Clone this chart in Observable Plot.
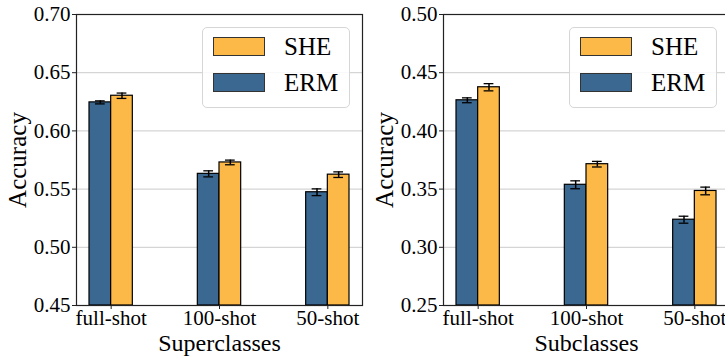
<!DOCTYPE html>
<html>
<head>
<meta charset="utf-8">
<script src="https://cdn.jsdelivr.net/npm/d3@7"></script>
<script src="https://cdn.jsdelivr.net/npm/@observablehq/plot@0.6"></script>
<style>
  html, body { margin: 0; padding: 0; background: white; width: 725px; height: 356px; overflow: hidden; }
  #wrap { position: relative; width: 725px; height: 356px; font-family: "Liberation Serif", "Times New Roman", serif; }
  .panel { position: absolute; top: 0; }
  .legend { position: absolute; top: 27px; width: 146px; height: 79px; border: 1px solid #d6d6d6; border-radius: 5px; background: rgba(255,255,255,0.85); }
  .legend .sw { position: absolute; left: 10px; width: 50px; height: 17px; border: 1px solid #333; }
  .legend .lb { position: absolute; left: 81px; font-size: 25px; line-height: 25px; color: black; }
</style>
</head>
<body>
<div id="wrap"></div>
<script>
const categories = ["full-shot", "100-shot", "50-shot"];
const series = ["ERM", "SHE"];
const colors = ["#3b6891", "#fdb948"];

const superERM    = [0.6245, 0.5631, 0.5473];
const superERMerr = [0.0013, 0.0026, 0.0029];
const superSHE    = [0.6302, 0.5729, 0.5624];
const superSHEerr = [0.0023, 0.0020, 0.0024];

const subERM      = [0.4263, 0.3537, 0.3237];
const subERMerr   = [0.0021, 0.0034, 0.0030];
const subSHE      = [0.4375, 0.3714, 0.3484];
const subSHEerr   = [0.0031, 0.0024, 0.0033];

const superTicks = [0.45, 0.50, 0.55, 0.60, 0.65, 0.70];
const subTicks   = [0.25, 0.30, 0.35, 0.40, 0.45, 0.50];

const barW = 0.2;
const capW = 0.045;

function rows(erm, ermErr, she, sheErr) {
  const out = [];
  categories.forEach((c, i) => {
    out.push({cat: c, i, series: "ERM", value: erm[i], err: ermErr[i], x1: i - barW, x2: i});
    out.push({cat: c, i, series: "SHE", value: she[i], err: sheErr[i], x1: i, x2: i + barW});
  });
  return out;
}

function panel(data, ticks, xlabel) {
  const y0 = ticks[0], y1 = ticks[ticks.length - 1];
  return Plot.plot({
    width: 365, height: 356,
    marginLeft: 76, marginRight: 3, marginTop: 14, marginBottom: 51,
    style: {fontFamily: '"Liberation Serif", "Times New Roman", serif', fontSize: "21px", background: "transparent", color: "black", overflow: "visible"},
    x: {type: "linear", domain: [-0.32, 2.32]},
    y: {domain: [y0, y1]},
    color: {domain: series, range: colors},
    marks: [
      Plot.ruleY(ticks.slice(1, -1), {stroke: "#d5d5d5", strokeWidth: 1.3}),
      Plot.rectY(data, {x1: "x1", x2: "x2", y1: () => y0, y2: "value", fill: "series", stroke: "black", strokeWidth: 1.2}),
      Plot.ruleX(data, {x: d => (d.x1 + d.x2) / 2, y1: d => d.value - d.err, y2: d => d.value + d.err, stroke: "black", strokeWidth: 1.5}),
      Plot.ruleY(data, {y: d => d.value - d.err, x1: d => (d.x1 + d.x2) / 2 - capW, x2: d => (d.x1 + d.x2) / 2 + capW, stroke: "black", strokeWidth: 1.3}),
      Plot.ruleY(data, {y: d => d.value + d.err, x1: d => (d.x1 + d.x2) / 2 - capW, x2: d => (d.x1 + d.x2) / 2 + capW, stroke: "black", strokeWidth: 1.3}),
      Plot.axisX({ticks: [0, 1, 2], tickFormat: i => categories[i], tickSize: 4, tickPadding: 1, label: null, fontSize: 21, stroke: "#222"}),
      Plot.axisY({ticks, tickFormat: d3.format(".2f"), tickSize: 4, tickPadding: 2, label: null, fontSize: 21, stroke: "#222"}),
      Plot.text([xlabel], {frameAnchor: "bottom", textAnchor: "middle", lineAnchor: "bottom", dy: 45, fontSize: 24, fill: "black"}),
      Plot.text(["Accuracy"], {frameAnchor: "left", textAnchor: "middle", lineAnchor: "middle", rotate: -90, dx: -59, fontSize: 25, fill: "black"}),
      Plot.frame({stroke: "#222", strokeWidth: 1.2})
    ]
  });
}

function legend(left) {
  const lg = document.createElement("div");
  lg.className = "legend";
  lg.style.left = left + "px";
  const entries = [{name: "SHE", color: colors[1], top: 9}, {name: "ERM", color: colors[0], top: 45}];
  for (const e of entries) {
    const sw = document.createElement("div");
    sw.className = "sw";
    sw.style.top = e.top + "px";
    sw.style.background = e.color;
    lg.appendChild(sw);
    const lb = document.createElement("div");
    lb.className = "lb";
    lb.style.top = (e.top - 3) + "px";
    lb.textContent = e.name;
    lg.appendChild(lb);
  }
  return lg;
}

const wrap = document.getElementById("wrap");
const p1 = panel(rows(superERM, superERMerr, superSHE, superSHEerr), superTicks, "Superclasses");
p1.classList.add("panel"); p1.style.left = "0px";
const p2 = panel(rows(subERM, subERMerr, subSHE, subSHEerr), subTicks, "Subclasses");
p2.classList.add("panel"); p2.style.left = "367px";
wrap.appendChild(p1);
wrap.appendChild(p2);
wrap.appendChild(legend(202));
wrap.appendChild(legend(569));
</script>
</body>
</html>
